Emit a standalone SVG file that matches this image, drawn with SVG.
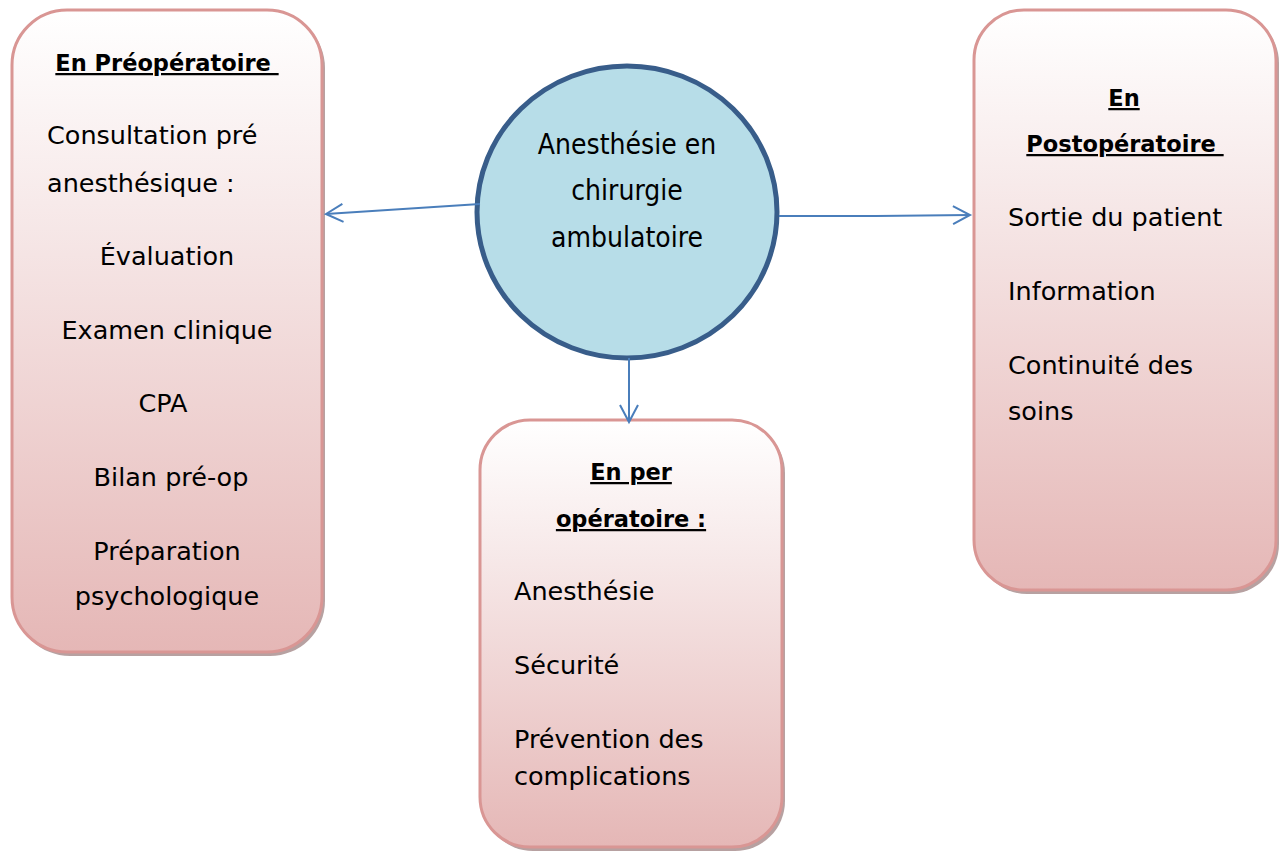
<svg xmlns="http://www.w3.org/2000/svg" width="1279" height="851" viewBox="0 0 1279 851">
  <defs>
    <linearGradient id="pink" x1="0" y1="0" x2="0" y2="1">
      <stop offset="0" stop-color="#ffffff"/>
      <stop offset="0.3" stop-color="#f7eaea"/>
      <stop offset="1" stop-color="#e5b7b6"/>
    </linearGradient>
    <marker id="arrow" markerUnits="userSpaceOnUse" markerWidth="24" markerHeight="24" refX="0" refY="0" viewBox="-20 -12 24 24" orient="auto" overflow="visible">
      <path d="M -17 -9 L 0 0 L -17 9" fill="none" stroke="#4a7ebb" stroke-width="2"/>
    </marker>
  </defs>
  <style>
    .box { fill: url(#pink); stroke: #d99694; stroke-width: 3; }
    .shadow { fill: #a58a8a; opacity: 0.8; }
    .t { font-family: "DejaVu Sans", Verdana, sans-serif; font-size: 25.5px; fill: #000; }
    .h { font-family: "DejaVu Sans", Verdana, sans-serif; font-size: 22.5px; font-weight: bold; fill: #000; text-decoration: underline; white-space: pre; }
    .c { text-anchor: middle; }
    .circ { font-family: "DejaVu Sans Condensed", "DejaVu Sans", sans-serif; font-size: 28px; fill: #000; text-anchor: middle; }
    .conn { fill: none; stroke: #4a7ebb; stroke-width: 2; marker-end: url(#arrow); }
  </style>
  <rect width="1279" height="851" fill="#ffffff"/>

  <g id="pre">
    <rect class="shadow" x="15" y="13" width="310" height="643" rx="55"/>
    <rect class="box" x="12" y="10" width="310" height="642" rx="55"/>
    <text class="h c" x="167" y="71">En Préopératoire </text>
    <text class="t" x="47" y="144">Consultation pré</text>
    <text class="t" x="47" y="192">anesthésique :</text>
    <text class="t c" x="167" y="265">Évaluation</text>
    <text class="t c" x="167" y="339">Examen clinique</text>
    <text class="t c" x="163" y="412">CPA</text>
    <text class="t c" x="171" y="486">Bilan pré-op</text>
    <text class="t c" x="167" y="560">Préparation</text>
    <text class="t c" x="167" y="605">psychologique</text>
  </g>

  <g id="center">
    <ellipse cx="627" cy="212" rx="150" ry="146" fill="#b7dde8" stroke="#385d8a" stroke-width="5"/>
    <text class="circ" x="627" y="154">Anesthésie en</text>
    <text class="circ" x="627" y="200">chirurgie</text>
    <text class="circ" x="627" y="247">ambulatoire</text>
  </g>

  <g id="per">
    <rect class="shadow" x="483" y="423" width="302" height="428" rx="50"/>
    <rect class="box" x="480" y="420" width="302" height="427" rx="50"/>
    <text class="h c" x="631" y="480">En per</text>
    <text class="h c" x="631" y="527">opératoire :</text>
    <text class="t" x="514" y="600">Anesthésie</text>
    <text class="t" x="514" y="674">Sécurité</text>
    <text class="t" x="514" y="748">Prévention des</text>
    <text class="t" x="514" y="785">complications</text>
  </g>

  <g id="post">
    <rect class="shadow" x="977" y="13" width="302" height="581" rx="50"/>
    <rect class="box" x="974" y="10" width="302" height="580" rx="50"/>
    <text class="h c" x="1124" y="106">En</text>
    <text class="h c" x="1125" y="152">Postopératoire </text>
    <text class="t" x="1008" y="226">Sortie du patient</text>
    <text class="t" x="1008" y="300">Information</text>
    <text class="t" x="1008" y="374">Continuité des</text>
    <text class="t" x="1008" y="420">soins</text>
  </g>

  <g id="connectors">
    <path class="conn" d="M 480 204 L 326 214"/>
    <path class="conn" d="M 779 216 L 876 216 L 970 215"/>
    <path class="conn" d="M 629 358 L 629 422"/>
  </g>
</svg>
